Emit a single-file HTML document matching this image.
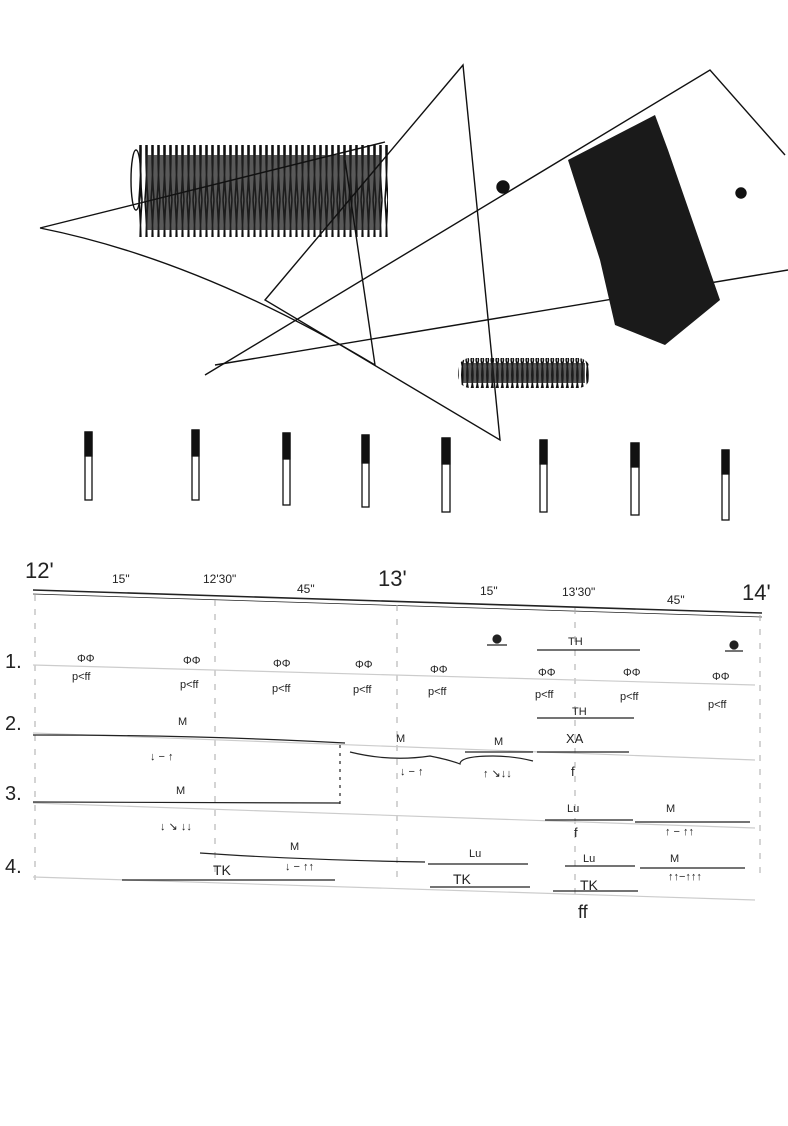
<!DOCTYPE html>
<html><head><meta charset="utf-8"><style>
html,body{margin:0;padding:0;background:#fff;}
svg{display:block}
text{font-family:"Liberation Sans",sans-serif;fill:#222}
</style></head><body>
<svg width="788" height="1126" viewBox="0 0 788 1126" xmlns="http://www.w3.org/2000/svg">
<defs>
<pattern id="scr" width="6" height="100" patternUnits="userSpaceOnUse">
<path d="M1 0 Q5 50 1 100 M4 0 Q0 50 4 100" stroke="#111" stroke-width="1.6" fill="none"/>
</pattern>
<pattern id="scr2" width="5" height="30" patternUnits="userSpaceOnUse">
<path d="M1 0 Q5 15 1 30 M3.5 0 Q0 15 3.5 30" stroke="#111" stroke-width="1.5" fill="none"/>
</pattern>
</defs>
<g stroke="#111" stroke-width="1.4" fill="none">
<rect x="138" y="145" width="250" height="92" fill="url(#scr)" stroke="none"/>
<rect x="146" y="155" width="235" height="75" fill="#222" opacity="0.75" stroke="none"/>
<ellipse cx="136" cy="180" rx="5" ry="30"/>
<path d="M40 228 L385 142"/>
<path d="M40 228 Q200 260 375 365 L345 160"/>
<path d="M463 65 L500 440 L265 300 Z"/>
<path d="M205 375 L710 70 L785 155"/>
<path d="M215 365 L788 270"/>
<circle cx="503" cy="187" r="6" fill="#111"/>
<circle cx="741" cy="193" r="5" fill="#111"/>
<polygon points="568,160 655,115 668,150 720,300 665,345 615,325 600,260" fill="#1a1a1a" stroke="none"/>
<rect x="458" y="358" width="132" height="30" rx="12" fill="url(#scr2)" stroke="none"/>
<rect x="463" y="363" width="122" height="20" fill="#222" opacity="0.75" stroke="none"/>
</g>
<g stroke="#111" stroke-width="1.3">
<rect x="85" y="432" width="7" height="68" fill="#fff"/><rect x="85" y="432" width="7" height="24" fill="#111"/>
<rect x="192" y="430" width="7" height="70" fill="#fff"/><rect x="192" y="430" width="7" height="26" fill="#111"/>
<rect x="283" y="433" width="7" height="72" fill="#fff"/><rect x="283" y="433" width="7" height="26" fill="#111"/>
<rect x="362" y="435" width="7" height="72" fill="#fff"/><rect x="362" y="435" width="7" height="28" fill="#111"/>
<rect x="442" y="438" width="8" height="74" fill="#fff"/><rect x="442" y="438" width="8" height="26" fill="#111"/>
<rect x="540" y="440" width="7" height="72" fill="#fff"/><rect x="540" y="440" width="7" height="24" fill="#111"/>
<rect x="631" y="443" width="8" height="72" fill="#fff"/><rect x="631" y="443" width="8" height="24" fill="#111"/>
<rect x="722" y="450" width="7" height="70" fill="#fff"/><rect x="722" y="450" width="7" height="24" fill="#111"/>
</g>
<g stroke="#222" fill="none">
<path d="M33 590 L762 613" stroke-width="1.6"/>
<path d="M33 594 L762 617" stroke-width="0.8"/>
<g stroke="#aaa" stroke-width="1" stroke-dasharray="6 8">
<path d="M35 595 V880"/><path d="M215 600 V880"/><path d="M397 605 V880"/><path d="M575 608 V900"/><path d="M760 615 V880"/>
</g>
<g stroke="#ccc" stroke-width="1.2">
<path d="M33 665 L755 685"/><path d="M33 733 L755 760"/><path d="M33 803 L755 828"/><path d="M33 877 L755 900"/>
</g>
</g>
<g font-size="12">
<text x="25" y="578" font-size="22">12'</text>
<text x="112" y="583">15"</text>
<text x="203" y="583">12'30"</text>
<text x="297" y="593">45"</text>
<text x="378" y="586" font-size="22">13'</text>
<text x="480" y="595">15"</text>
<text x="562" y="596">13'30"</text>
<text x="667" y="604">45"</text>
<text x="742" y="600" font-size="22">14'</text>
<text x="5" y="668" font-size="20">1.</text>
<text x="5" y="730" font-size="20">2.</text>
<text x="5" y="800" font-size="20">3.</text>
<text x="5" y="873" font-size="20">4.</text>
</g>
<g font-size="11">
<text x="77" y="662">ΦΦ</text><text x="72" y="680">p&lt;ff</text>
<text x="183" y="664">ΦΦ</text><text x="180" y="688">p&lt;ff</text>
<text x="273" y="667">ΦΦ</text><text x="272" y="692">p&lt;ff</text>
<text x="355" y="668">ΦΦ</text><text x="353" y="693">p&lt;ff</text>
<text x="430" y="673">ΦΦ</text><text x="428" y="695">p&lt;ff</text>
<text x="538" y="676">ΦΦ</text><text x="535" y="698">p&lt;ff</text>
<text x="623" y="676">ΦΦ</text><text x="620" y="700">p&lt;ff</text>
<text x="712" y="680">ΦΦ</text><text x="708" y="708">p&lt;ff</text>
<text x="568" y="645">TH</text><text x="572" y="715">TH</text>
<text x="178" y="725">M</text><text x="396" y="742">M</text><text x="494" y="745">M</text>
<text x="566" y="743" font-size="13">XA</text><text x="571" y="776" font-size="13">f</text>
<text x="176" y="794">M</text><text x="567" y="812">Lu</text><text x="666" y="812">M</text>
<text x="574" y="837" font-size="13">f</text>
<text x="290" y="850">M</text><text x="469" y="857">Lu</text><text x="583" y="862">Lu</text><text x="670" y="862">M</text>
<text x="213" y="875" font-size="14">TK</text><text x="453" y="884" font-size="14">TK</text><text x="580" y="890" font-size="14">TK</text>
<text x="578" y="918" font-size="18">ff</text>
<text x="150" y="760">↓ − ↑</text><text x="400" y="775">↓ − ↑</text><text x="483" y="777">↑ ↘↓↓</text>
<text x="160" y="830">↓ ↘ ↓↓</text><text x="665" y="835">↑ − ↑↑</text><text x="285" y="870">↓ − ↑↑</text><text x="668" y="880">↑↑−↑↑↑</text>
</g>
<g stroke="#222" stroke-width="1.2" fill="none">
<circle cx="497" cy="639" r="4" fill="#222"/><path d="M487 645 h20"/>
<circle cx="734" cy="645" r="4" fill="#222"/><path d="M725 651 h18"/>
<path d="M537 650 h103"/><path d="M537 718 h97"/>
<path d="M33 735 Q200 735 345 743"/><path d="M465 752 h68"/>
<path d="M350 752 q40 10 80 4 q20 4 30 8 q0 -8 33 -8 q20 0 40 5"/>
<path d="M537 752 h92"/>
<path d="M33 802 L340 803"/><path d="M340 745 V805" stroke-dasharray="3 5"/>
<path d="M545 820 h88"/><path d="M635 822 h115"/>
<path d="M200 853 Q300 860 425 862"/><path d="M428 864 h100"/><path d="M565 866 h70"/><path d="M640 868 h105"/>
<path d="M122 880 h213"/><path d="M430 887 h100"/><path d="M553 891 h85"/>
</g>
</svg>
</body></html>
